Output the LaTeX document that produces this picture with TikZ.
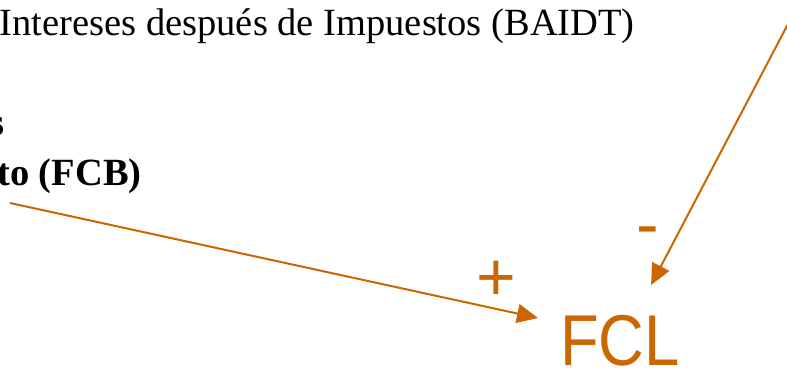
\documentclass[tikz,border=0pt]{standalone}
\usepackage{fontspec}
\setmainfont{Liberation Serif}
\newfontfamily\fclfont[FakeStretch=0.88]{Liberation Sans}
\newfontfamily\signfont{Liberation Sans}
\usetikzlibrary{arrows.meta,positioning}
\definecolor{naranja}{HTML}{CC6600}

\begin{document}
\begin{tikzpicture}[x=1pt,y=-1pt,
    texto/.style={inner sep=0pt,font=\fontsize{38.5}{46}\selectfont},
    signo/.style={inner sep=0pt,naranja,font=\signfont\fontsize{68}{80}\selectfont},
    flecha/.style={naranja,line width=2pt,-{Triangle[length=21pt,width=19pt]}}]
      \useasboundingbox (0,0) rectangle (787,369); \clip (0,0) rectangle (787,369);
      \node[texto,anchor=base west] (baidt) at (-0.5,36) {Intereses después de Impuestos (BAIDT)};
      \node[texto,anchor=base east,font=\fontsize{38.5}{46}\selectfont\bfseries] (linea) at (5,135) {s};
      \node[texto,anchor=base west,font=\fontsize{38.5}{46}\selectfont\bfseries] (fcb) at (-3,185) {to (FCB)};
      \node[inner sep=0pt,anchor=base west,naranja,font=\fclfont\fontsize{72}{86}\selectfont] (fcl) at (560,365) {FCL};
      \node[signo,anchor=base] (mas) at (496,300) {+}; \node[signo,anchor=base] (menos) at (648,247.5) {-};
      \coordinate (bruto) at (10,203); \coordinate (impuestos) at (788,24);
      \draw[flecha] (bruto) -- ([xshift=-22pt,yshift=-3.5pt]fcl.north west);
      \draw[flecha] (impuestos) -- ([xshift=31pt,yshift=29.5pt]fcl.north);
    \end{tikzpicture}
\end{document}
